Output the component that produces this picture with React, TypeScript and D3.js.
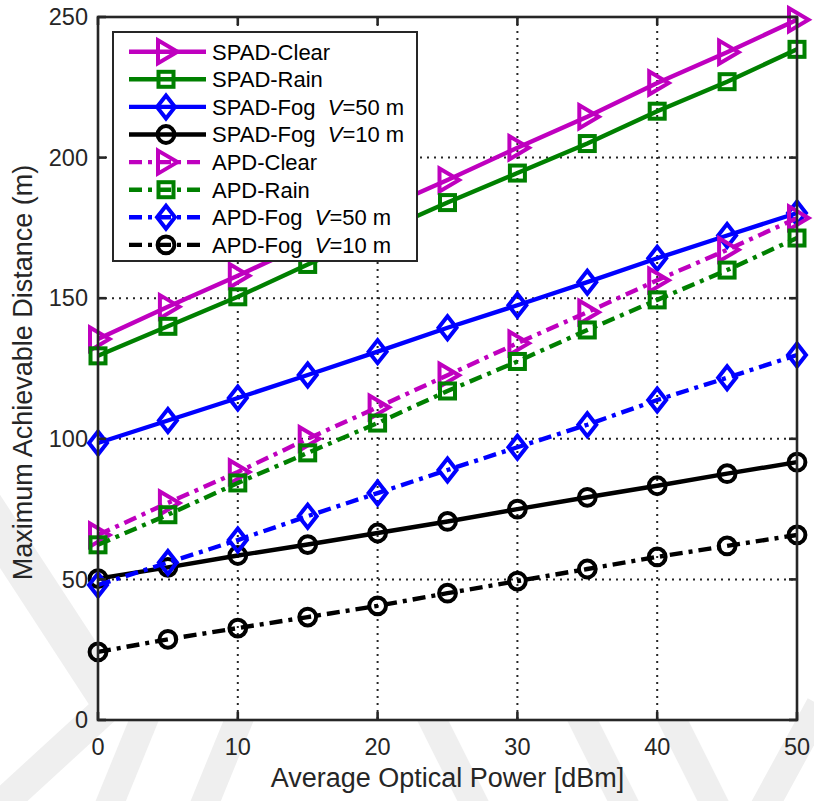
import React from "react";
import * as d3 from "d3";

// Transmit power sweep (dBm)
const power = [0, 5, 10, 15, 20, 25, 30, 35, 40, 45, 50];

// Maximum achievable distance (m) per receiver / channel condition
const spadClear = [135.5, 147, 158, 169.5, 181, 192, 203.5, 214.5, 226.5, 237.5, 249];
const spadRain = [129.5, 140, 150.5, 162, 173, 184, 194.5, 205, 216.5, 227, 238.5];
const spadFog50 = [98.5, 106.5, 114.5, 122.7, 131, 139.5, 147.5, 155.7, 164.2, 172.3, 180.3];
const spadFog10 = [50.3, 54.3, 58.5, 62.4, 66.5, 70.6, 75, 79.2, 83.3, 87.6, 91.7];
const apdClear = [65.8, 77.2, 88.2, 100, 111.2, 122.6, 134, 145, 156.4, 167.2, 178.5];
const apdRain = [62.3, 73, 84.3, 95, 105.6, 117, 127.5, 138.7, 149.4, 160, 171.4];
const apdFog50 = [48, 56, 64, 72.5, 80.7, 88.9, 97, 105, 113.8, 121.7, 129.8];
const apdFog10 = [24.2, 28.7, 32.7, 36.6, 40.6, 45.1, 49.4, 53.7, 58, 61.9, 65.8];

const xTicks = [0, 10, 20, 30, 40, 50];
const yTicks = [0, 50, 100, 150, 200, 250];

type Marker = "tri" | "square" | "diamond" | "circle";
interface Series {
  name: string;
  vis?: string;
  values: number[];
  color: string;
  dashed: boolean;
  marker: Marker;
}

const MAGENTA = "#bf00bf";
const GREEN = "#008000";
const BLUE = "#0000ff";
const BLACK = "#000000";

const series: Series[] = [
  { name: "SPAD-Clear", values: spadClear, color: MAGENTA, dashed: false, marker: "tri" },
  { name: "SPAD-Rain", values: spadRain, color: GREEN, dashed: false, marker: "square" },
  { name: "SPAD-Fog  ", vis: "=50 m", values: spadFog50, color: BLUE, dashed: false, marker: "diamond" },
  { name: "SPAD-Fog  ", vis: "=10 m", values: spadFog10, color: BLACK, dashed: false, marker: "circle" },
  { name: "APD-Clear", values: apdClear, color: MAGENTA, dashed: true, marker: "tri" },
  { name: "APD-Rain", values: apdRain, color: GREEN, dashed: true, marker: "square" },
  { name: "APD-Fog  ", vis: "=50 m", values: apdFog50, color: BLUE, dashed: true, marker: "diamond" },
  { name: "APD-Fog  ", vis: "=10 m", values: apdFog10, color: BLACK, dashed: true, marker: "circle" },
];

const W = 814;
const H = 801;
const PL = 98, PR = 797, PT = 17, PB = 720;
const FONT = "'Liberation Sans', Arial, Helvetica, sans-serif";
const AX = "#262626";
const LW = 4.4;
const DASH = "13,6,4,6";

function MarkerShape({ type, cx, cy, color }: { type: Marker; cx: number; cy: number; color: string }) {
  const sw = 4;
  if (type === "tri") {
    const pts = [[cx - 8, cy - 11.5], [cx + 11.5, cy], [cx - 8, cy + 11.5]];
    return <polygon points={pts.map((p) => p.join(",")).join(" ")} fill="none" stroke={color} strokeWidth={sw} strokeLinejoin="miter" />;
  }
  if (type === "square") {
    return <rect x={cx - 7.5} y={cy - 7.5} width={15} height={15} fill="none" stroke={color} strokeWidth={sw} />;
  }
  if (type === "diamond") {
    const pts = [[cx, cy - 11.5], [cx + 9, cy], [cx, cy + 11.5], [cx - 9, cy]];
    return <polygon points={pts.map((p) => p.join(",")).join(" ")} fill="none" stroke={color} strokeWidth={sw} />;
  }
  return <circle cx={cx} cy={cy} r={8.4} fill="none" stroke={color} strokeWidth={sw} />;
}

// faint diagonal background bands
const bands: [number, number, number, number, number][] = [
  [-40, 470, 110, 700, 40],
  [-10, 815, 110, 705, 30],
  [105, 815, 150, 705, 28],
  [200, 815, 245, 705, 28],
  [425, 705, 480, 815, 28],
  [575, 705, 630, 815, 28],
  [665, 705, 720, 815, 28],
  [760, 815, 820, 705, 28],
];

export default function App() {
  const x = d3.scaleLinear().domain([0, 50]).range([PL, PR]);
  const y = d3.scaleLinear().domain([0, 250]).range([PB, PT]);
  const line = d3
    .line<number>()
    .x((_, i) => x(power[i]))
    .y((d) => y(d));

  const legX = 113, legY = 32, legW = 304, legH = 229;
  const rowY0 = 51.7, rowDy = 27.6;

  return (
    <svg
      width={W}
      height={H}
      viewBox={`0 0 ${W} ${H}`}
      style={{ position: "absolute", left: 0, top: 0, background: "#fff" }}
      fontFamily={FONT}
    >
      <rect x={0} y={0} width={W} height={H} fill="#fff" />
      {bands.map(([x1, y1, x2, y2, w], i) => (
        <line key={i} x1={x1} y1={y1} x2={x2} y2={y2} stroke="#efefef" strokeWidth={w} />
      ))}
      <rect x={PL} y={PT} width={PR - PL} height={PB - PT} fill="#fff" />

      {/* grid */}
      {xTicks.slice(1, -1).map((t) => (
        <line key={"gx" + t} x1={x(t)} x2={x(t)} y1={PT} y2={PB} stroke={AX} strokeWidth={2} strokeDasharray="2,5" />
      ))}
      {yTicks.slice(1, -1).map((t) => (
        <line key={"gy" + t} x1={PL} x2={PR} y1={y(t)} y2={y(t)} stroke={AX} strokeWidth={2} strokeDasharray="2,5" />
      ))}

      {/* series */}
      {series.map((s, si) => (
        <g key={si}>
          <path
            d={line(s.values) || ""}
            fill="none"
            stroke={s.color}
            strokeWidth={LW}
            strokeDasharray={s.dashed ? DASH : undefined}
          />
          {s.values.map((v, i) => (
            <MarkerShape key={i} type={s.marker} cx={x(power[i])} cy={y(v)} color={s.color} />
          ))}
        </g>
      ))}

      {/* axes box and ticks */}
      <rect x={PL} y={PT} width={PR - PL} height={PB - PT} fill="none" stroke={AX} strokeWidth={2.6} />
      {xTicks.map((t) => (
        <g key={"tx" + t}>
          <line x1={x(t)} x2={x(t)} y1={PB} y2={PB - 8} stroke={AX} strokeWidth={2.6} />
          <line x1={x(t)} x2={x(t)} y1={PT} y2={PT + 8} stroke={AX} strokeWidth={2.6} />
          <text x={x(t)} y={755} textAnchor="middle" fontSize={23.5} fill={AX}>
            {t}
          </text>
        </g>
      ))}
      {yTicks.map((t) => (
        <g key={"ty" + t}>
          <line x1={PL} x2={PL + 8} y1={y(t)} y2={y(t)} stroke={AX} strokeWidth={2.6} />
          <line x1={PR} x2={PR - 8} y1={y(t)} y2={y(t)} stroke={AX} strokeWidth={2.6} />
          <text x={88} y={y(t)} dy="0.35em" textAnchor="end" fontSize={23.5} fill={AX}>
            {t}
          </text>
        </g>
      ))}

      <text x={(PL + PR) / 2} y={787} textAnchor="middle" fontSize={27} fill={AX}>
        Average Optical Power [dBm]
      </text>
      <text
        transform={`translate(32, ${(PT + PB) / 2 + 4}) rotate(-90)`}
        textAnchor="middle"
        fontSize={27}
        fill={AX}
      >
        Maximum Achievable Distance (m)
      </text>

      {/* legend */}
      <rect x={legX} y={legY} width={legW} height={legH} fill="#fff" stroke={AX} strokeWidth={2} />
      {series.map((s, i) => {
        const ry = rowY0 + i * rowDy;
        return (
          <g key={"leg" + i}>
            <line x1={129} x2={206} y1={ry} y2={ry} stroke={s.color} strokeWidth={LW} strokeDasharray={s.dashed ? DASH : undefined} />
            <MarkerShape type={s.marker} cx={166} cy={ry} color={s.color} />
            <text x={212} y={ry} dy="0.36em" fontSize={22} fill="#000" xmlSpace="preserve">
              {s.name}
              {s.vis ? <tspan fontStyle="italic">V</tspan> : null}
              {s.vis ? s.vis : null}
            </text>
          </g>
        );
      })}
    </svg>
  );
}
